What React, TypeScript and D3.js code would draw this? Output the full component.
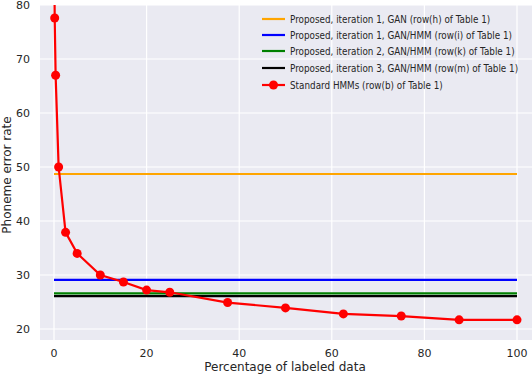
import React, { useEffect, useRef } from "react";
import * as d3 from "d3";

// standard HMM curve (row(b) of Table 1)
const hmmX = [0, 0.15, 0.35, 1, 2.5, 5, 10, 15, 20, 25, 37.5, 50, 62.5, 75, 87.5, 100];
const hmmY = [95, 77.6, 67, 50, 37.9, 34.0, 30, 28.7, 27.2, 26.8, 24.9, 23.9, 22.8, 22.4, 21.7, 21.7];

// flat reference lines
const flatNames = [
  "Proposed, iteration 1, GAN (row(h) of Table 1)",
  "Proposed, iteration 1, GAN/HMM (row(i) of Table 1)",
  "Proposed, iteration 2, GAN/HMM (row(k) of Table 1)",
  "Proposed, iteration 3, GAN/HMM (row(m) of Table 1)",
];
const flatValues = [48.7, 29.1, 26.6, 26.1];
const flatColors = ["orange", "blue", "green", "black"];
const hmmName = "Standard HMMs (row(b) of Table 1)";

const xTicks = [0, 20, 40, 60, 80, 100];
const yTicks = [20, 30, 40, 50, 60, 70, 80];

const W = 532, H = 374;

export default function App() {
  const ref = useRef<SVGSVGElement>(null);

  useEffect(() => {
    const svg = d3.select(ref.current);
    svg.selectAll("*").remove();

    const left = 40, right = 532, top = 5, bottom = 340;
    const x = d3.scaleLinear().domain([0, 100]).range([54, 517]);
    const y = d3.scaleLinear().domain([20, 80]).range([329, 5]);
    const font = "DejaVu Sans, sans-serif";
    const textCol = "#262626";

    svg.append("rect").attr("x", left).attr("y", top)
      .attr("width", right - left).attr("height", bottom - top)
      .attr("fill", "#EAEAF2");

    const clip = svg.append("clipPath").attr("id", "plotclip");
    clip.append("rect").attr("x", left).attr("y", top)
      .attr("width", right - left).attr("height", bottom - top);

    // grid
    svg.append("g").selectAll("line").data(xTicks).join("line")
      .attr("x1", d => x(d)).attr("x2", d => x(d))
      .attr("y1", top).attr("y2", bottom)
      .attr("stroke", "white").attr("stroke-width", 1.2);
    svg.append("g").selectAll("line").data(yTicks).join("line")
      .attr("x1", left).attr("x2", right)
      .attr("y1", d => y(d)).attr("y2", d => y(d))
      .attr("stroke", "white").attr("stroke-width", 1.2);

    // tick labels
    svg.append("g").selectAll("text").data(xTicks).join("text")
      .attr("x", d => x(d)).attr("y", 357)
      .attr("text-anchor", "middle")
      .attr("font-family", font).attr("font-size", 11).attr("fill", textCol)
      .text(d => d);
    svg.append("g").selectAll("text").data(yTicks).join("text")
      .attr("x", 30).attr("y", d => y(d)).attr("dy", "0.35em")
      .attr("text-anchor", "end")
      .attr("font-family", font).attr("font-size", 11).attr("fill", textCol)
      .text(d => d);

    // axis labels
    svg.append("text").attr("x", 285).attr("y", 371)
      .attr("text-anchor", "middle")
      .attr("font-family", font).attr("font-size", 12).attr("fill", textCol)
      .text("Percentage of labeled data");
    svg.append("text")
      .attr("transform", `translate(11,175) rotate(-90)`)
      .attr("text-anchor", "middle")
      .attr("font-family", font).attr("font-size", 12).attr("fill", textCol)
      .text("Phoneme error rate");

    const plot = svg.append("g").attr("clip-path", "url(#plotclip)");

    // flat lines
    plot.selectAll("line.flat").data(flatValues).join("line")
      .attr("class", "flat")
      .attr("x1", x(0)).attr("x2", x(100))
      .attr("y1", d => y(d)).attr("y2", d => y(d))
      .attr("stroke", (d, i) => flatColors[i]).attr("stroke-width", 2.2);

    // HMM curve
    const pts = hmmX.map((v, i) => [v, hmmY[i]] as [number, number]);
    const line = d3.line<[number, number]>().x(d => x(d[0])).y(d => y(d[1]));
    plot.append("path").datum(pts).attr("d", line)
      .attr("fill", "none").attr("stroke", "red").attr("stroke-width", 2.2);
    plot.selectAll("circle").data(pts.slice(1)).join("circle")
      .attr("cx", d => x(d[0])).attr("cy", d => y(d[1])).attr("r", 4.5)
      .attr("fill", "red");

    // legend (text is a bit narrow in the original, so squeeze it horizontally)
    const legY = [19, 35, 51, 68, 85];
    const leg = svg.append("g");
    const names = [...flatNames, hmmName];
    const cols = [...flatColors, "red"];
    names.forEach((n, i) => {
      leg.append("line").attr("x1", 262).attr("x2", 285)
        .attr("y1", legY[i]).attr("y2", legY[i])
        .attr("stroke", cols[i]).attr("stroke-width", 2.2);
      if (i === 4) {
        leg.append("circle").attr("cx", 273.5).attr("cy", legY[i]).attr("r", 4.5).attr("fill", "red");
      }
      leg.append("text")
        .attr("transform", `translate(290,${legY[i]}) scale(0.84,1)`)
        .attr("dy", "0.35em")
        .attr("font-family", font).attr("font-size", 10.5).attr("fill", textCol)
        .text(n);
    });
  }, []);

  return (
    <svg ref={ref} width={W} height={H}
      style={{ position: "absolute", left: 0, top: 0, background: "white" }} />
  );
}
